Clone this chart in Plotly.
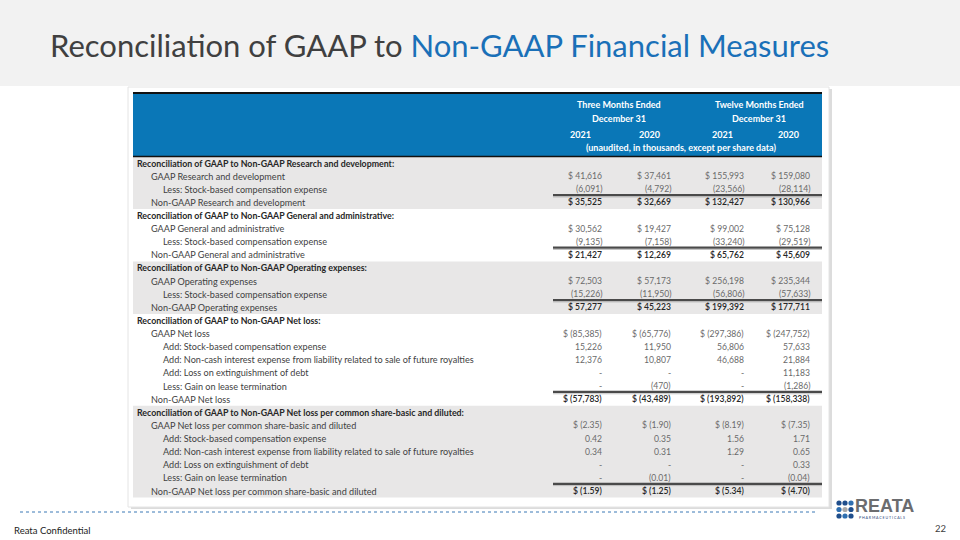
import plotly.graph_objects as go

# ---------------- data ----------------
title_gray = "Reconciliation of GAAP to "
title_blue = "Non-GAAP Financial Measures"
period_labels = ["Three Months Ended", "Twelve Months Ended"]
period_sub = "December 31"
year_labels = ["2021", "2020", "2021", "2020"]
unit_note = "(unaudited, in thousands, except per share data)"

rd_gaap = [41616, 37461, 155993, 159080]
rd_sbc = [-6091, -4792, -23566, -28114]
rd_non = [35525, 32669, 132427, 130966]

ga_gaap = [30562, 19427, 99002, 75128]
ga_sbc = [-9135, -7158, -33240, -29519]
ga_non = [21427, 12269, 65762, 45609]

op_gaap = [72503, 57173, 256198, 235344]
op_sbc = [-15226, -11950, -56806, -57633]
op_non = [57277, 45223, 199392, 177711]

nl_gaap = [-85385, -65776, -297386, -247752]
nl_sbc = [15226, 11950, 56806, 57633]
nl_int = [12376, 10807, 46688, 21884]
nl_ext = [None, None, None, 11183]
nl_lease = [None, -470, None, -1286]
nl_non = [-57783, -43489, -193892, -158338]

ps_gaap = [-2.35, -1.90, -8.19, -7.35]
ps_sbc = [0.42, 0.35, 1.56, 1.71]
ps_int = [0.34, 0.31, 1.29, 0.65]
ps_ext = [None, None, None, 0.33]
ps_lease = [None, -0.01, None, -0.04]
ps_non = [-1.59, -1.25, -5.34, -4.70]

# (label, indent level, values, kind, decimals)
rows = [
    ("Reconciliation of GAAP to Non-GAAP Research and development:", 0, None, "head", 0),
    ("GAAP Research and development", 1, rd_gaap, "dollar", 0),
    ("Less: Stock-based compensation expense", 2, rd_sbc, "plain", 0),
    ("Non-GAAP Research and development", 1, rd_non, "total", 0),
    ("Reconciliation of GAAP to Non-GAAP General and administrative:", 0, None, "head", 0),
    ("GAAP General and administrative", 1, ga_gaap, "dollar", 0),
    ("Less: Stock-based compensation expense", 2, ga_sbc, "plain", 0),
    ("Non-GAAP General and administrative", 1, ga_non, "total", 0),
    ("Reconciliation of GAAP to Non-GAAP Operating expenses:", 0, None, "head", 0),
    ("GAAP Operating expenses", 1, op_gaap, "dollar", 0),
    ("Less: Stock-based compensation expense", 2, op_sbc, "plain", 0),
    ("Non-GAAP Operating expenses", 1, op_non, "total", 0),
    ("Reconciliation of GAAP to Non-GAAP Net loss:", 0, None, "head", 0),
    ("GAAP Net loss", 1, nl_gaap, "dollar", 0),
    ("Add: Stock-based compensation expense", 2, nl_sbc, "plain", 0),
    ("Add: Non-cash interest expense from liability related to sale of future royalties", 2, nl_int, "plain", 0),
    ("Add: Loss on extinguishment of debt", 2, nl_ext, "plain", 0),
    ("Less: Gain on lease termination", 2, nl_lease, "plain", 0),
    ("Non-GAAP Net loss", 1, nl_non, "total", 0),
    ("Reconciliation of GAAP to Non-GAAP Net loss per common share-basic and diluted:", 0, None, "head", 2),
    ("GAAP Net loss per common share-basic and diluted", 1, ps_gaap, "dollar", 2),
    ("Add: Stock-based compensation expense", 2, ps_sbc, "plain", 2),
    ("Add: Non-cash interest expense from liability related to sale of future royalties", 2, ps_int, "plain", 2),
    ("Add: Loss on extinguishment of debt", 2, ps_ext, "plain", 2),
    ("Less: Gain on lease termination", 2, ps_lease, "plain", 2),
    ("Non-GAAP Net loss per common share-basic and diluted", 1, ps_non, "total", 2),
]
gray_groups = [(0, 3), (8, 11), (19, 25)]

# ---------------- layout constants ----------------
FONT = "Lato, 'Open Sans', sans-serif"
ROW0, STEP = 163.0, 13.12
LABEL_X = [135, 149, 161]
VAL_X = [604, 673, 746, 812]
TX0, TX1 = 133, 822
BLUE = "#0a77b7"


def fmt(v, dec, dollar):
    if v is None:
        return "-"
    s = f"{abs(v):,.{dec}f}"
    if v < 0:
        s = f"({s})"
    return ("$ " + s) if dollar else s


def ry(i):
    return ROW0 + i * STEP


shapes = []
annotations = []

# header band of slide
shapes.append(dict(type="rect", x0=0, x1=960, y0=0, y1=86, fillcolor="#f2f2f2",
                   line=dict(width=0), layer="below"))
# panel shadow + panel
shapes.append(dict(type="rect", x0=131, x1=832, y0=89, y1=509, fillcolor="#dcdcdc",
                   line=dict(width=0), layer="below"))
shapes.append(dict(type="rect", x0=128, x1=829, y0=87, y1=507, fillcolor="white",
                   line=dict(color="#e4e4e4", width=1), layer="below"))
# blue table header
shapes.append(dict(type="rect", x0=TX0, x1=TX1, y0=93, y1=156, fillcolor=BLUE,
                   line=dict(width=0), layer="below"))
shapes.append(dict(type="line", x0=TX0, x1=TX1, y0=93, y1=93, line=dict(color="#111111", width=2)))
shapes.append(dict(type="line", x0=TX0, x1=TX1, y0=156.5, y1=156.5, line=dict(color="#111111", width=1.5)))
# row bands
for a, b in gray_groups:
    shapes.append(dict(type="rect", x0=TX0, x1=TX1, y0=ry(a) - STEP / 2, y1=ry(b) + STEP / 2,
                       fillcolor="#e8e7e7", line=dict(width=0), layer="below"))

# header text
HF = dict(family=FONT, size=9, color="white")
for k, lab in enumerate(period_labels):
    cx = (VAL_X[2 * k] + VAL_X[2 * k + 1]) / 2 - 20
    annotations.append(dict(x=cx, y=104, text=f"<b>{lab}</b>", showarrow=False,
                            font=HF, xanchor="center", yanchor="middle"))
    annotations.append(dict(x=cx, y=118, text=f"<b>{period_sub}</b>", showarrow=False,
                            font=HF, xanchor="center", yanchor="middle"))
for j, yl in enumerate(year_labels):
    annotations.append(dict(x=VAL_X[j] - 11, y=134, text=f"<b>{yl}</b>", showarrow=False,
                            font=HF, xanchor="right", yanchor="middle"))
annotations.append(dict(x=681, y=147, text=f"<b>{unit_note}</b>", showarrow=False,
                        font=HF, xanchor="center", yanchor="middle"))

# body
for i, (lab, lvl, vals, kind, dec) in enumerate(rows):
    y = ry(i)
    if kind == "head":
        annotations.append(dict(x=LABEL_X[0], y=y, text=f"<b>{lab}</b>", showarrow=False,
                                font=dict(family=FONT, size=8.8, color="#262626"),
                                xanchor="left", yanchor="middle"))
        continue
    annotations.append(dict(x=LABEL_X[lvl], y=y, text=lab, showarrow=False,
                            font=dict(family=FONT, size=9.1, color="#3f3f3f"),
                            xanchor="left", yanchor="middle"))
    for j, v in enumerate(vals):
        txt = fmt(v, dec, kind in ("dollar", "total"))
        col = "#262626" if kind == "total" else "#6a6a6a"
        annotations.append(dict(x=VAL_X[j], y=y, text=txt, showarrow=False,
                                font=dict(family=FONT, size=8.6, color=col,
                                          weight=600 if kind == "total" else 400),
                                xanchor="right", yanchor="middle"))
    if kind == "total":
        shapes.append(dict(type="line", x0=553, x1=TX1, y0=y - 7.2, y1=y - 7.2,
                           line=dict(color="#4a4a4a", width=2.2)))
        shapes.append(dict(type="line", x0=553, x1=TX1, y0=y - 5.4, y1=y - 5.4,
                           line=dict(color="#b0b0b0", width=0.8)))

# title
annotations.append(dict(x=48, y=45, xanchor="left", yanchor="middle", showarrow=False,
                        text=f"<span style='color:#404040'>{title_gray}</span>"
                             f"<span style='color:#1a70b8'>{title_blue}</span>",
                        font=dict(family=FONT, size=31)))

# footer
shapes.append(dict(type="line", x0=20, x1=815, y0=512, y1=512,
                   line=dict(color="#3a78b5", width=1, dash="dot")))
annotations.append(dict(x=12, y=530, text="Reata Confidential", showarrow=False,
                        font=dict(family=FONT, size=9.5, color="#222222"), xanchor="left", yanchor="middle"))
annotations.append(dict(x=948, y=528, text="22", showarrow=False,
                        font=dict(family=FONT, size=9.5, color="#404040"), xanchor="right", yanchor="middle"))
annotations.append(dict(x=853, y=506, text="<b>REATA</b>", showarrow=False,
                        font=dict(family="'Liberation Sans', Arial, sans-serif", size=18, color="#6b6c6f"),
                        xanchor="left", yanchor="middle"))
annotations.append(dict(x=857, y=517, text="P H A R M A C E U T I C A L S", showarrow=False,
                        font=dict(family=FONT, size=3.6, color="#1f3f7a"), xanchor="left", yanchor="middle"))

logo_x = [839, 845, 851] * 3
logo_y = [503] * 3 + [509.5] * 3 + [516] * 3
logo_c = ["#1f4e8c", "#1f4e8c", "#2f6fb0",
          "#2f6fb0", "#a9a9a9", "#1f4e8c",
          "#1f4e8c", "#2f6fb0", "#1f4e8c"]

fig = go.Figure(go.Scatter(x=logo_x, y=logo_y, mode="markers",
                           marker=dict(size=5.2, color=logo_c), hoverinfo="skip"))
fig.update_layout(
    width=960, height=540, margin=dict(l=0, r=0, t=0, b=0),
    paper_bgcolor="white", plot_bgcolor="white", showlegend=False,
    xaxis=dict(range=[0, 960], visible=False, fixedrange=True),
    yaxis=dict(range=[540, 0], visible=False, fixedrange=True),
    shapes=shapes, annotations=annotations,
)
fig.write_html("out.html", config={"displayModeBar": False},
               post_script="document.body.style.margin='0';document.body.style.overflow='hidden';")
